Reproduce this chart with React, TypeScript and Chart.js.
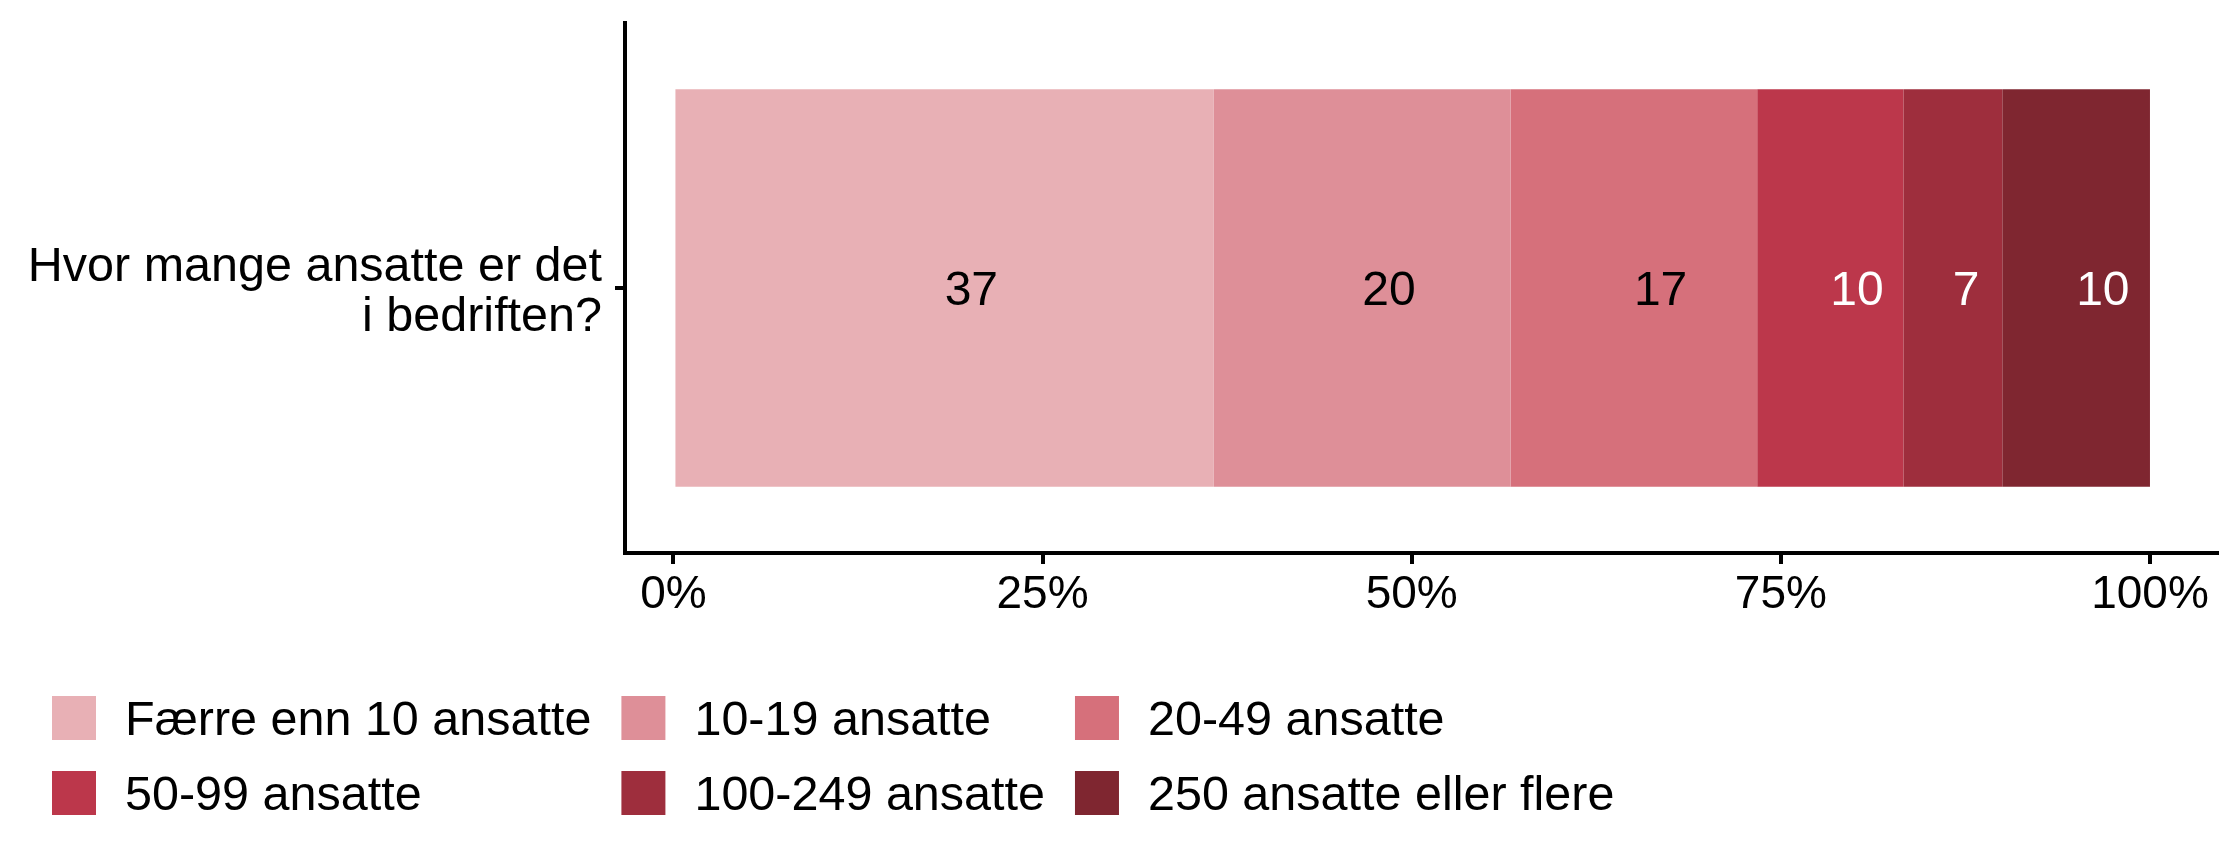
import React, { useEffect, useRef } from 'react';
import { Chart, registerables } from 'chart.js';

Chart.register(...registerables);

const FONT = '"Liberation Sans", Arial, Helvetica, sans-serif';

const QUESTION = ['Hvor mange ansatte er det', 'i bedriften?'];
const SERIES_NAMES = [
  'Færre enn 10 ansatte',
  '10-19 ansatte',
  '20-49 ansatte',
  '50-99 ansatte',
  '100-249 ansatte',
  '250 ansatte eller flere',
];
const SERIES_VALUES = [36.6, 20.1, 16.7, 9.9, 6.7, 10.0];
const SERIES_COLORS = ['#E8B0B5', '#DE8F98', '#D6707B', '#BC374B', '#9E2E3D', '#7F2630'];
const LABEL_COLORS = ['#000000', '#000000', '#000000', '#FFFFFF', '#FFFFFF', '#FFFFFF'];
const X_TICKS = [0, 25, 50, 75, 100];
const X_TICK_LABELS = ['0%', '25%', '50%', '75%', '100%'];

const W = 2240;
const H = 867;

const segmentLabels = {
  id: 'segmentLabels',
  afterDatasetsDraw(chart: any) {
    const ctx = chart.ctx;
    ctx.save();
    ctx.font = `48px ${FONT}`;
    ctx.textAlign = 'left';
    ctx.textBaseline = 'alphabetic';
    chart.data.datasets.forEach((ds: any, i: number) => {
      const meta = chart.getDatasetMeta(i);
      meta.data.forEach((el: any, j: number) => {
        const p = el.getProps(['x', 'base', 'y'], true);
        const cx = (p.x + p.base) / 2;
        ctx.fillStyle = LABEL_COLORS[i];
        ctx.fillText(String(Math.round(ds.data[j])), cx, p.y + 17);
      });
    });
    ctx.restore();
  },
};

const gridLegend = {
  id: 'gridLegend',
  afterDraw(chart: any) {
    const ctx = chart.ctx;
    const cols = 3;
    const box = 44;
    const textGap = 29;
    const colGap = 30;
    const left = 52;
    const top = 696;
    const rowStep = 75;
    ctx.save();
    ctx.font = `48.5px ${FONT}`;
    const ds = chart.data.datasets;
    const maxW: number[] = [];
    ds.forEach((d: any, i: number) => {
      const c = i % cols;
      const w = ctx.measureText(d.label).width;
      maxW[c] = Math.max(maxW[c] || 0, w);
    });
    const colX: number[] = [];
    let x = left;
    for (let c = 0; c < cols; c++) {
      colX[c] = x;
      x += box + textGap + (maxW[c] || 0) + colGap;
    }
    ds.forEach((d: any, i: number) => {
      const c = i % cols;
      const r = Math.floor(i / cols);
      const bx = colX[c];
      const by = top + r * rowStep;
      ctx.fillStyle = d.backgroundColor;
      ctx.fillRect(bx, by, box, box);
      ctx.fillStyle = '#000000';
      ctx.textAlign = 'left';
      ctx.textBaseline = 'alphabetic';
      ctx.fillText(d.label, bx + box + textGap, by + box / 2 + 17);
    });
    ctx.restore();
  },
};

export default function App() {
  const ref = useRef<HTMLCanvasElement | null>(null);

  useEffect(() => {
    document.body.style.margin = '0';
    const canvas = ref.current;
    if (!canvas) return;
    const chart = new Chart(canvas, {
      type: 'bar',
      data: {
        labels: [QUESTION],
        datasets: SERIES_NAMES.map((name, i) => ({
          label: name,
          data: [SERIES_VALUES[i]],
          backgroundColor: SERIES_COLORS[i],
          borderWidth: 0,
          barPercentage: 0.75,
          categoryPercentage: 1,
        })),
      },
      options: {
        indexAxis: 'y',
        responsive: false,
        animation: false,
        devicePixelRatio: 1,
        layout: { padding: { left: 0, right: 23, top: 23, bottom: 234 } },
        plugins: {
          legend: { display: false },
          tooltip: { enabled: false },
          title: { display: false },
        },
        scales: {
          x: {
            type: 'linear',
            stacked: true,
            min: -3.28,
            max: 104.54,
            afterBuildTicks: (scale: any) => {
              scale.ticks = X_TICKS.map((v) => ({ value: v }));
            },
            afterFit: (scale: any) => {
              scale.height = 80;
              scale.paddingLeft = 0;
              scale.paddingRight = 0;
            },
            ticks: {
              color: '#000000',
              font: { family: FONT, size: 46 },
              padding: 4,
              maxRotation: 0,
              autoSkip: false,
              callback: (v: any) => {
                const idx = X_TICKS.indexOf(Number(v));
                return idx >= 0 ? X_TICK_LABELS[idx] : '';
              },
            },
            grid: {
              display: true,
              drawOnChartArea: false,
              drawTicks: true,
              tickLength: 11,
              color: '#000000',
              lineWidth: 4,
            },
            border: { display: true, color: '#000000', width: 4 },
          },
          y: {
            type: 'category',
            stacked: true,
            afterFit: (scale: any) => {
              scale.width = 625;
              scale.paddingTop = 0;
              scale.paddingBottom = 0;
            },
            ticks: {
              color: '#000000',
              font: { family: FONT, size: 48.5, lineHeight: 1.03 },
              padding: 13,
              labelOffset: 5,
              autoSkip: false,
            },
            grid: {
              display: true,
              offset: false,
              drawOnChartArea: false,
              drawTicks: true,
              tickLength: 10,
              color: '#000000',
              lineWidth: 4,
            },
            border: { display: true, color: '#000000', width: 4 },
          },
        },
      },
      plugins: [segmentLabels, gridLegend],
    } as any);
    return () => chart.destroy();
  }, []);

  return (
    <div style={{ width: W, height: H, background: '#ffffff' }}>
      <canvas ref={ref} width={W} height={H} style={{ display: 'block', width: W, height: H }} />
    </div>
  );
}
